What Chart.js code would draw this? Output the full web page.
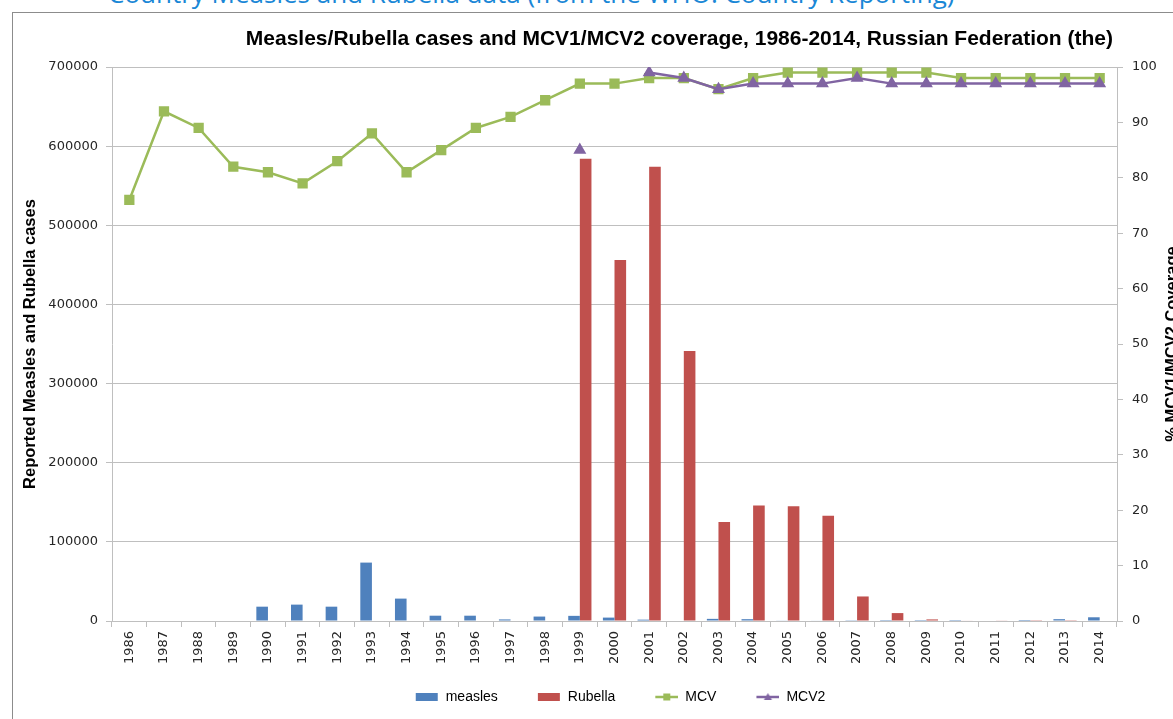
<!DOCTYPE html>
<html>
<head>
<meta charset="utf-8">
<script src="https://cdn.jsdelivr.net/npm/chart.js@4.4.1/dist/chart.umd.min.js"></script>
<style>
    html, body { margin: 0; padding: 0; width: 1173px; height: 719px; overflow: hidden; background: #fff; }
    #heading { position: absolute; left: 108px; top: -20px; font: 26px "Open Sans", sans-serif; line-height: 26px; color: #1a87d6; white-space: nowrap; }
    #frame { position: absolute; left: 12px; top: 12px; width: 1200px; height: 800px; border-left: 1px solid #8c8c8c; border-top: 1px solid #8c8c8c; }
    #c { position: absolute; left: 0; top: 0; }
</style>
</head>
<body>
<div id="heading">Country Measles and Rubella data (from the WHO: Country Reporting)</div>
<div id="frame"></div>
<canvas id="c" width="1173" height="719"></canvas>
<script>
const years = ['1986', '1987', '1988', '1989', '1990', '1991', '1992', '1993', '1994', '1995',
    '1996', '1997', '1998', '1999', '2000', '2001', '2002', '2003', '2004', '2005',
    '2006', '2007', '2008', '2009', '2010', '2011', '2012', '2013', '2014'];

// reported cases
const measles = [null, null, null, null, 18100, 20700, 18100, 73800, 28300, 6700,
    6700, 2000, 5600, 6500, 4300, 1700, 600, 2700, 2300, 500,
    700, 300, 100, 100, 100, 600, 1300, 2300, 4700];
const rubella = [null, null, null, null, null, null, null, null, null, null,
    null, null, null, 584000, 456000, 574000, 341000, 125000, 146000, 145000,
    133000, 31000, 10000, 2000, 700, 500, 1000, 1000, 600];

// coverage, %
const mcv = [76, 92, 89, 82, 81, 79, 83, 88, 81, 85,
    89, 91, 94, 97, 97, 98, 98, 96, 98, 99,
    99, 99, 99, 99, 98, 98, 98, 98, 98];
const mcv2 = [null, null, null, null, null, null, null, null, null, null,
    null, null, null, 85, null, 99, 98, 96, 97, 97,
    97, 98, 97, 97, 97, 97, 97, 97, 97];

const BLUE = '#4f81bd', RED = '#c0504d', GREEN = '#9bbb59', PURPLE = '#8064a2';
const GRID = '#bfbfbf';
const TICK_FONT = {family: '"DejaVu Sans", Verdana, sans-serif', size: 13};
const ICON_W = 53;

// legend glyphs: filled box for bars, line + marker for lines (drawn at the right of the icon)
function makeIcon(kind, color) {
    const cv = document.createElement('canvas');
    cv.width = ICON_W;
    cv.height = 10;
    const g = cv.getContext('2d');
    const x0 = ICON_W - 23;
    g.fillStyle = color;
    g.strokeStyle = color;
    if (kind === 'bar') {
        g.fillRect(x0, 1, 22, 8);
    } else {
        g.lineWidth = 2.5;
        g.beginPath();
        g.moveTo(x0, 5);
        g.lineTo(x0 + 23, 5);
        g.stroke();
        g.beginPath();
        if (kind === 'rect') {
            g.rect(x0 + 8, 1.5, 7, 7);
        } else {
            g.moveTo(x0 + 11.5, 1);
            g.lineTo(x0 + 15.5, 8);
            g.lineTo(x0 + 7.5, 8);
            g.closePath();
        }
        g.fill();
    }
    return cv;
}
const icons = [makeIcon('bar', BLUE), makeIcon('bar', RED), makeIcon('rect', GREEN), makeIcon('tri', PURPLE)];

const extraText = {
    id: 'extraText',
    afterDraw(chart) {
        const {ctx, chartArea} = chart;
        ctx.save();
        ctx.fillStyle = '#000';
        ctx.font = 'bold 21px "Liberation Sans", Arial, sans-serif';
        ctx.textAlign = 'right';
        ctx.textBaseline = 'middle';
        ctx.fillText('Measles/Rubella cases and MCV1/MCV2 coverage, 1986-2014, Russian Federation (the)', chartArea.right - 4, 39);

        // right axis title reads bottom to top
        ctx.translate(1172, (chartArea.top + chartArea.bottom) / 2);
        ctx.rotate(-Math.PI / 2);
        ctx.textAlign = 'center';
        ctx.font = 'bold 16.5px "Liberation Sans", Arial, sans-serif';
        ctx.fillText('% MCV1/MCV2 Coverage', 0, 0);
        ctx.restore();
    }
};

new Chart(document.getElementById('c'), {
    type: 'bar',
    data: {
        labels: years,
        datasets: [
            {label: 'measles', data: measles, backgroundColor: BLUE, yAxisID: 'y', order: 2,
                categoryPercentage: 0.67, barPercentage: 1.0},
            {label: 'Rubella', data: rubella, backgroundColor: RED, yAxisID: 'y', order: 2,
                categoryPercentage: 0.67, barPercentage: 1.0},
            {type: 'line', label: 'MCV', data: mcv, yAxisID: 'y1', order: 1,
                borderColor: GREEN, backgroundColor: GREEN, borderWidth: 2.5,
                pointStyle: 'rect', pointRadius: 5.5, tension: 0},
            {type: 'line', label: 'MCV2', data: mcv2, yAxisID: 'y1', order: 0,
                borderColor: PURPLE, backgroundColor: PURPLE, borderWidth: 2.5,
                pointStyle: 'triangle', pointRadius: 5, tension: 0, spanGaps: false}
        ]
    },
    options: {
        responsive: false,
        animation: false,
        // wide left padding only to nudge the centred legend right; the y axis is sized to fill back to x=112
        layout: {padding: {top: 67, left: 38, right: 0, bottom: 5}},
        scales: {
            x: {
                grid: {offset: true, drawOnChartArea: false, tickLength: 6, color: GRID},
                border: {color: GRID},
                ticks: {minRotation: 90, maxRotation: 90, autoSkip: false, padding: 4, color: '#262626', font: TICK_FONT},
                afterFit: (s) => { s.height = 59; }
            },
            y: {
                position: 'left',
                min: 0, max: 700000,
                ticks: {stepSize: 100000, padding: 8, color: '#262626', font: TICK_FONT, callback: (v) => String(v)},
                grid: {color: GRID, tickLength: 6},
                border: {color: GRID},
                title: {display: true, text: 'Reported Measles and Rubella cases', color: '#000',
                    font: {family: '"Liberation Sans", Arial, sans-serif', size: 16.5, weight: 'bold'},
                    padding: {top: -17, bottom: 0}},
                afterFit: (s) => { s.width = 74; }
            },
            y1: {
                position: 'right',
                min: 0, max: 100,
                ticks: {stepSize: 10, padding: 9, color: '#262626', font: TICK_FONT},
                grid: {drawOnChartArea: false, color: GRID, tickLength: 6},
                border: {color: GRID},
                afterFit: (s) => { s.width = 56; }
            }
        },
        plugins: {
            tooltip: {enabled: false},
            legend: {
                position: 'bottom',
                labels: {
                    usePointStyle: true,
                    pointStyleWidth: ICON_W,
                    padding: 10,
                    color: '#222',
                    font: {family: '"Liberation Sans", Arial, sans-serif', size: 14},
                    generateLabels: (chart) => chart.data.datasets.map((ds, i) => ({
                        text: ds.label, pointStyle: icons[i], fillStyle: ds.backgroundColor,
                        strokeStyle: ds.backgroundColor, lineWidth: 0, hidden: false, datasetIndex: i
                    }))
                }
            }
        }
    },
    plugins: [extraText]
});
</script>
</body>
</html>
